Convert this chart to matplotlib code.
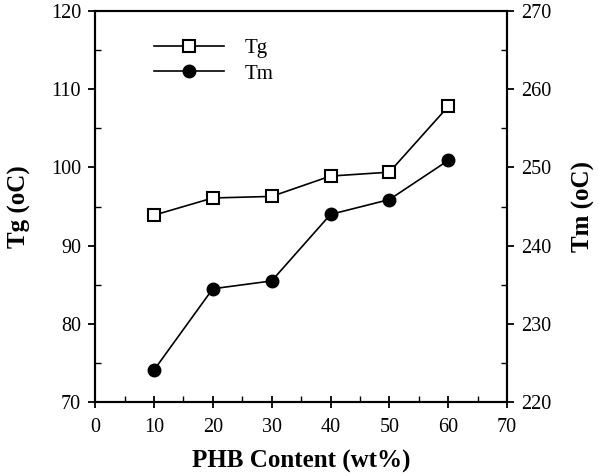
import matplotlib.pyplot as plt
from matplotlib.ticker import MultipleLocator

phb = [10, 20, 30, 40, 50, 60]  # PHB content (wt%)
tg = [93.9, 96.1, 96.3, 98.9, 99.4, 107.8]  # Tg (oC)
tm = [224.1, 234.5, 235.5, 244.0, 245.9, 250.9]  # Tm (oC)

plt.rcParams['font.family'] = ['Liberation Serif', 'DejaVu Serif']

fig = plt.figure(figsize=(5.98, 4.76), dpi=100)
ax = fig.add_axes([0.159, 0.155, 0.689, 0.822])
ax2 = ax.twinx()

l1, = ax.plot(phb, tg, color='black', lw=1.2, marker='s', ms=9,
              mfc='white', mec='black', mew=1.5, label='Tg')
l2, = ax2.plot(phb, tm, color='black', lw=1.2, marker='o', ms=9,
               mfc='black', mec='black', label='Tm')

ax.set_xlim(0, 70)
ax.set_ylim(70, 120)
ax2.set_ylim(220, 270)

ax.xaxis.set_major_locator(MultipleLocator(10))
ax.xaxis.set_minor_locator(MultipleLocator(5))
ax.yaxis.set_major_locator(MultipleLocator(10))
ax.yaxis.set_minor_locator(MultipleLocator(5))
ax2.yaxis.set_major_locator(MultipleLocator(10))
ax2.yaxis.set_minor_locator(MultipleLocator(5))

for a in (ax, ax2):
    for s in a.spines.values():
        s.set_linewidth(1.5)
    a.tick_params(which='major', direction='out', length=5, width=1.3,
                  labelsize=14.5, pad=5)
    a.tick_params(which='minor', direction='in', length=4, width=1.0)
ax.tick_params(top=False, which='both')
ax.tick_params(axis='x', which='major', direction='inout', length=8, pad=7.5)

ax.set_xlabel('PHB Content (wt%)', fontsize=18, fontweight='bold', labelpad=9)
ax.set_ylabel('Tg (oC)', fontsize=18, fontweight='bold', labelpad=14)
ax2.set_ylabel('Tm (oC)', fontsize=18, fontweight='bold', labelpad=15)

ax.legend([l1, l2], ['Tg', 'Tm'], loc='upper left', bbox_to_anchor=(0.098, 0.978),
          frameon=False, fontsize=15, handlelength=3.36, handletextpad=0.96,
          labelspacing=0.3)

fig.savefig('out.png', dpi=100)
